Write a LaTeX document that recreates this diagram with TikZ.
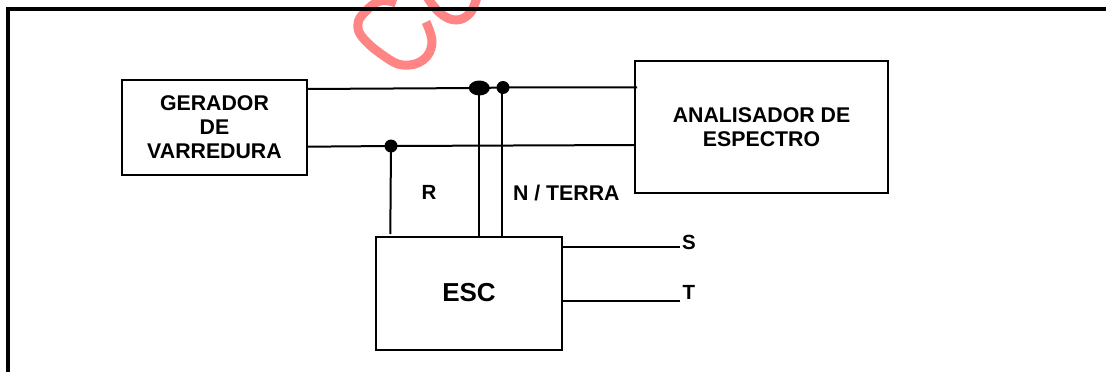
\documentclass[tikz,border=0pt]{standalone}
\usepackage{fontspec}
\setmainfont{Liberation Sans}
\usetikzlibrary{shapes.geometric}
\tikzset{
  x=1pt,y=-1pt,
  blockbox/.style={draw=black,line width=2pt,fill=white,inner sep=0pt,align=center},
  wire/.style={draw=black,line width=2pt},
  lbl/.style={inner sep=0pt,font=\fontsize{20.5}{24}\selectfont\bfseries,align=center},
  lblbig/.style={lbl,font=\fontsize{21.3}{24}\selectfont\bfseries},
  junction/.style={circle,fill=black,inner sep=0pt,minimum size=13pt},
  bigjunction/.style={ellipse,fill=black,inner sep=0pt,minimum width=21pt,minimum height=15pt},
  stamp/.style={draw=stampcol,line width=9pt,smooth,tension=0.7}
}
\definecolor{stampcol}{HTML}{FF8585}
\begin{document}
\begin{tikzpicture}
\clip (0,0) rectangle (1106,372);
\useasboundingbox (0,0) rectangle (1106,372);
\fill[white] (0,0) rectangle (1106,372);
% stamp fragment
\draw[stamp] plot coordinates {(396,3) (380,1) (365,12) (358,24) (363,38) (384,56) (403,65) (423,60) (432,43) (426,22)};
\draw[stamp] plot coordinates {(427,-3) (440,13) (456,20) (470,13) (477,-3)};
% frame
\draw[black,line width=4pt] (8,380) -- (8,9) -- (1112,9);
% blocks
\node[blockbox,minimum width=185pt,minimum height=95pt] (gen) at (214.5,127.3) {};
\node[blockbox,minimum width=253.5pt,minimum height=131.5pt] (ana) at (761.3,126.8) {};
\node[blockbox,minimum width=185.5pt,minimum height=113.5pt] (esc) at (468.9,293.3) {};
\node[lblbig] (gentxt) at (214.5,126.8) {GERADOR\\DE\\VARREDURA};
\node[lblbig] (anatxt) at (761.5,127) {ANALISADOR DE\\ESPECTRO};
\node[lbl,font=\fontsize{26}{28}\selectfont\bfseries] (esctxt) at (469,293) {ESC};
% attachment points
\coordinate (g1) at (307,89);
\coordinate (g2) at (307,146.7);
\coordinate (a1) at (637,87.3);
\coordinate (a2) at (635,145);
\coordinate (e1) at (390.3,234);
\coordinate (e2) at (479.3,236.7);
\coordinate (e3) at (502.3,236.7);
\coordinate (j2b) at (502.3,87.5);
\coordinate (s1) at (561.7,247.3);
\coordinate (s2) at (680,247.3);
\coordinate (t1) at (561.7,301);
\coordinate (t2) at (680,301);
% junctions
\node[bigjunction] (j1) at (479.3,88) {};
\node[junction] (j2) at (503,87.5) {};
\node[junction] (j3) at (391,146) {};
% connectors
\draw[wire] (g1) -- (j1.center) -- (j2.center) -- (a1);
\draw[wire] (g2) -- (j3.center) -- (a2);
\draw[wire] (j3.center) -- (e1);
\draw[wire] (j1.center) -- (e2);
\draw[wire] (j2b) -- (e3);
\draw[wire] (s1) -- (s2);
\draw[wire] (t1) -- (t2);
% labels
\node[lbl] (r) at (429,192.5) {R};
\node[lblbig] (n) at (566.3,192.5) {N / TERRA};
\node[lbl] (s) at (689,242) {S};
\node[lbl] (t) at (689,292) {T};
\end{tikzpicture}
\end{document}
